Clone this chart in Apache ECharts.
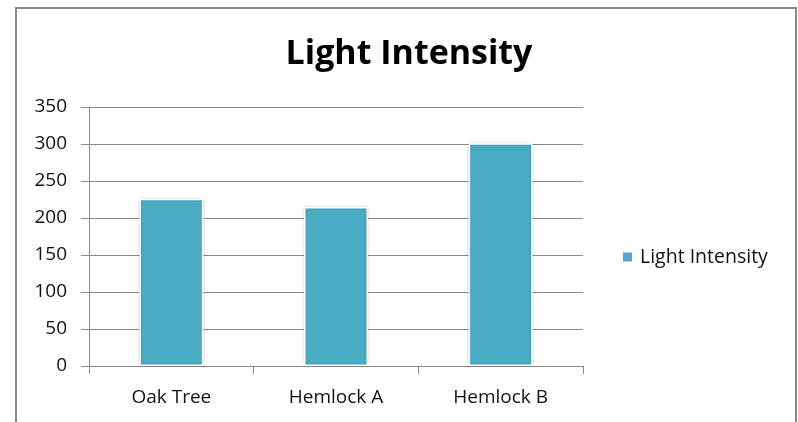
<!DOCTYPE html>
<html>
<head>
<meta charset="utf-8">
<script src="https://cdn.jsdelivr.net/npm/echarts@6/dist/echarts.min.js"></script>
<style>
  html, body { margin: 0; padding: 0; background: #fff; }
  #chart { width: 798px; height: 422px; }
</style>
</head>
<body>
<div id="chart"></div>
<script>
// Sites where light was measured, and the readings at each
const categories = ['Oak Tree', 'Hemlock A', 'Hemlock B'];
const lightIntensity = [226, 215, 301];
const seriesName = 'Light Intensity';
const yTicks = { min: 0, max: 350, interval: 50 };

const FONT = '"Open Sans", "Liberation Sans", sans-serif';
const TEXT = '#111';
const chart = echarts.init(document.getElementById('chart'));

chart.setOption({
  backgroundColor: '#fff',
  animation: false,
  title: {
    text: seriesName,
    left: 404,
    textAlign: 'center',
    top: 32,
    textStyle: { fontFamily: FONT, fontWeight: 'bold', fontSize: 34, color: '#000' }
  },
  legend: {
    data: [seriesName],
    left: 616,
    top: 242,
    icon: 'rect',
    itemWidth: 11,
    itemHeight: 11,
    textStyle: { fontFamily: FONT, fontSize: 19.5, color: TEXT, padding: [0, 0, 0, 2] }
  },
  grid: { left: 89, right: 215, top: 107, bottom: 56, containLabel: false },
  xAxis: {
    type: 'category',
    data: categories,
    boundaryGap: true,
    axisLine: { lineStyle: { color: '#8a8a8a', width: 1 } },
    axisTick: { show: true, length: 8, alignWithLabel: false, lineStyle: { color: '#8a8a8a' } },
    axisLabel: { fontFamily: FONT, fontSize: 19, color: TEXT, margin: 22 }
  },
  yAxis: {
    type: 'value',
    min: yTicks.min,
    max: yTicks.max,
    interval: yTicks.interval,
    axisLine: { show: true, lineStyle: { color: '#8a8a8a', width: 1 } },
    axisTick: { show: true, length: 8, lineStyle: { color: '#8a8a8a' } },
    axisLabel: { fontFamily: FONT, fontSize: 19, color: TEXT, margin: 22 },
    splitLine: { show: true, lineStyle: { color: '#8a8a8a', width: 1 } }
  },
  series: [{
    name: seriesName,
    type: 'bar',
    data: lightIntensity,
    barWidth: 64,
    itemStyle: {
      color: '#4BACC6',
      borderColor: '#ffffff',
      borderWidth: 1.5,
      shadowBlur: 3,
      shadowColor: 'rgba(0,0,0,0.18)'
    }
  }],
  graphic: [{
    type: 'rect',
    shape: { x: 16, y: 8, width: 780, height: 440 },
    style: { fill: 'none', stroke: '#8a8a8a', lineWidth: 2 },
    silent: true
  }]
});
</script>
</body>
</html>
